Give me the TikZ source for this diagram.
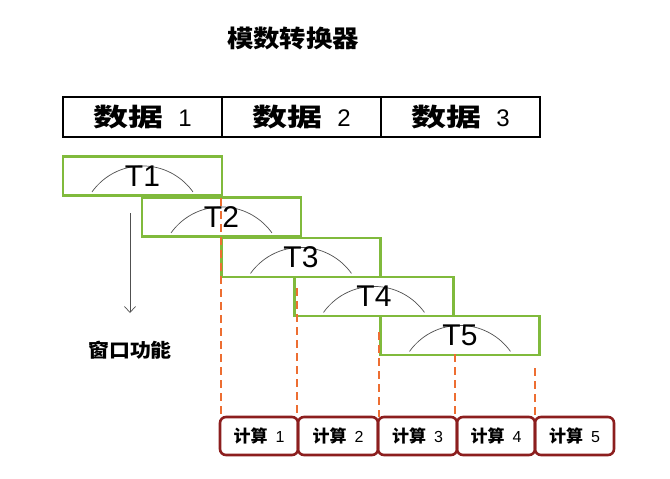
\documentclass[tikz,border=0pt]{standalone}
\usepackage{fontspec}
\usetikzlibrary{arrows.meta}
\newfontfamily\cjktitle[FakeStretch=1.1]{Noto Sans CJK SC}
\newfontfamily\cjkdata[FakeStretch=1.4]{Noto Sans CJK SC}
\newfontfamily\cjkcalc{Noto Sans CJK SC}
\newfontfamily\tsans{Liberation Sans}
\definecolor{boxgreen}{RGB}{128,186,60}
\definecolor{dashorange}{RGB}{237,110,50}
\definecolor{calcred}{RGB}{140,30,30}
\definecolor{arcgray}{RGB}{80,80,80}
\newcommand{\datalabel}[1]{{\cjkdata\bfseries\fontsize{25}{27}\selectfont 数据}\hspace{15pt}{\tsans\fontsize{24}{26}\selectfont #1}}
\newcommand{\calclabel}[1]{{\cjkcalc\bfseries\fontsize{17}{19}\selectfont 计算}\hspace{8pt}{\tsans\fontsize{16}{18}\selectfont #1}}
\tikzset{
  databox/.style={draw=black,line width=2pt,minimum width=159pt,minimum height=40pt,inner sep=0pt},
  tbox/.style={draw=boxgreen,line width=2.8pt,minimum width=159pt,minimum height=39pt,inner sep=0pt},
  tlabel/.style={font=\tsans\fontsize{30}{32}\selectfont,inner sep=0pt},
  calcbox/.style={draw=calcred,line width=2.6pt,rounded corners=6pt,minimum height=38pt,inner sep=0pt},
  tarc/.style={draw=arcgray,line width=0.7pt},
  orangedash/.style={draw=dashorange,line width=2pt,dash pattern=on 8pt off 5pt},
  winarrow/.style={draw=arcgray,line width=0.7pt,-{Straight Barb[length=6pt,width=11pt]}}
}
\begin{document}
\begin{tikzpicture}[x=1pt,y=-1pt]
\path[use as bounding box] (0,0) rectangle (670,479);
% title
\node[font=\cjktitle\bfseries\fontsize{24}{26}\selectfont] (title) at (293,38) {模数转换器};
% data boxes
\node[databox] (d1) at (142.5,117) {\datalabel{1}};
\node[databox] (d2) at (301.5,117) {\datalabel{2}};
\node[databox] (d3) at (460.5,117) {\datalabel{3}};
% T boxes
\node[tbox] (t1) at (142.5,176) {};
\node[tbox] (t2) at (221.5,217) {};
\node[tbox] (t3) at (301,257.5) {};
\node[tbox] (t4) at (374,296.5) {};
\node[tbox] (t5) at (460,335.5) {};
% arcs and labels
\foreach \n in {t1,t2,t3,t4,t5}{
  \draw[tarc] ([xshift=-50.5pt,yshift=5pt]\n.south) arc[start angle=144.5,end angle=35.5,radius=62pt];
}
\node[tlabel] (l1) at (t1) {T1};
\node[tlabel] (l2) at (t2) {T2};
\node[tlabel] (l3) at (t3) {T3};
\node[tlabel] (l4) at (t4) {T4};
\node[tlabel] (l5) at (t5) {T5};
% calc boxes
\node[calcbox,minimum width=78pt] (c1) at (259,436) {\calclabel{1}};
\node[calcbox,minimum width=80pt] (c2) at (338,436) {\calclabel{2}};
\node[calcbox,minimum width=79pt] (c3) at (417.5,436) {\calclabel{3}};
\node[calcbox,minimum width=78pt] (c4) at (496,436) {\calclabel{4}};
\node[calcbox,minimum width=79pt] (c5) at (574.5,436) {\calclabel{5}};
% dashed guides
\coordinate (s1) at (221,198);
\coordinate (s2) at (297,288);
\coordinate (s3) at (379,332);
\coordinate (s4) at (455,354);
\coordinate (s5) at (535,368);
\coordinate (e1) at (221,417);
\coordinate (e2) at (297,417);
\coordinate (e3) at (379,417);
\coordinate (e4) at (455,417);
\coordinate (e5) at (535,417);
\draw[orangedash] (s1) -- (e1);
\draw[orangedash] (s2) -- (e2);
\draw[orangedash] (s3) -- (e3);
\draw[orangedash] (s4) -- (e4);
\draw[orangedash] (s5) -- (e5);
% window arrow
\coordinate (wa) at (130,213);
\coordinate (wb) at (130,313);
\node[font=\cjktitle\bfseries\fontsize{19}{21}\selectfont] (win) at (130,350) {窗口功能};
\draw[winarrow] (wa) -- (wb);
\end{tikzpicture}
\end{document}
